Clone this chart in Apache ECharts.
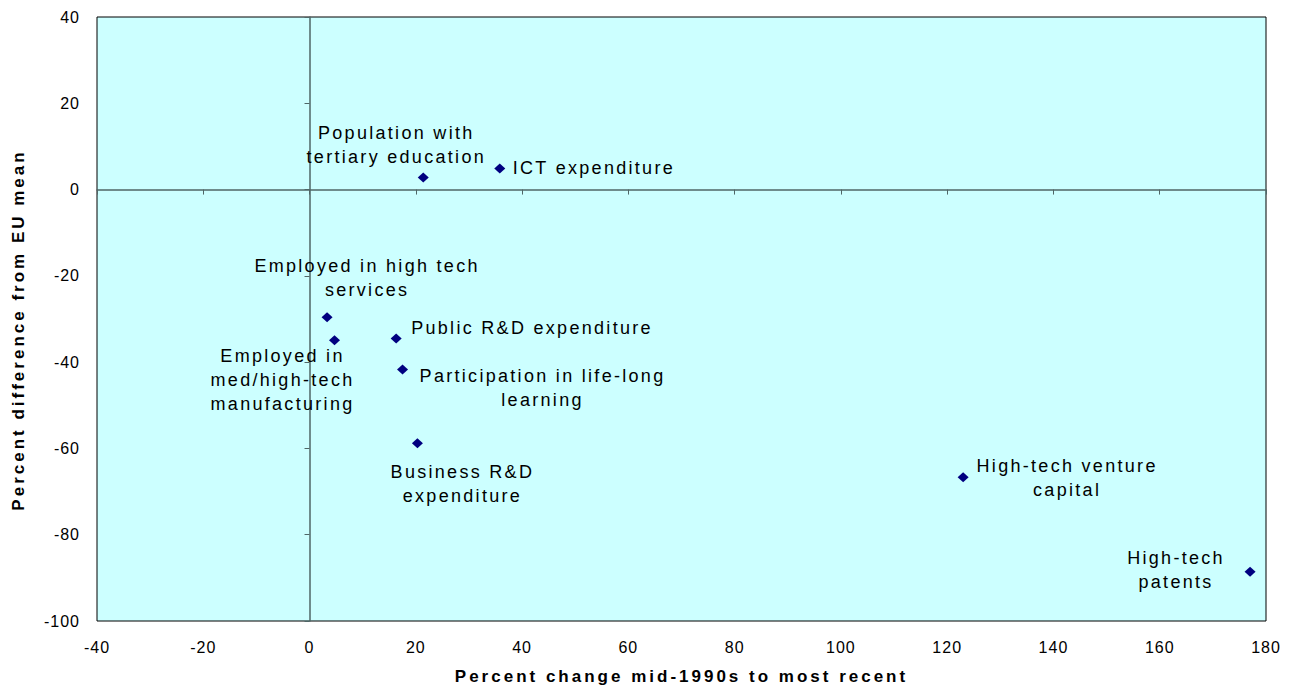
<!DOCTYPE html>
<html>
<head>
<meta charset="utf-8">
<script src="https://cdn.jsdelivr.net/npm/echarts@6/dist/echarts.min.js"></script>
<style>
html,body{margin:0;padding:0;background:#fff;}
#chart{width:1292px;height:691px;}
</style>
</head>
<body>
<div id="chart"></div>
<script>
// ---- data ----
const pointNames = [
  'Population with\ntertiary education',
  'ICT expenditure',
  'Employed in high tech\nservices',
  'Employed in\nmed/high-tech\nmanufacturing',
  'Public R&D expenditure',
  'Participation in life-long\nlearning',
  'Business R&D\nexpenditure',
  'High-tech venture\ncapital',
  'High-tech\npatents'
];
const xValues = [21.4, 35.8, 3.3, 4.7, 16.3, 17.5, 20.3, 123.0, 177.0];
const yValues = [2.8, 4.9, -29.6, -34.9, -34.5, -41.7, -58.8, -66.7, -88.6];
const xAxisRange = [-40, 180, 20];   // min, max, interval
const yAxisRange = [-100, 40, 20];
const xTitle = 'Percent change mid-1990s to most recent';
const yTitle = 'Percent difference from EU mean';

// ---- label placement (style, not data) ----
const labelLayout = [
  {align:'center', offset:[-27, -32]},
  {align:'left',   offset:[13, 0]},
  {align:'center', offset:[40, -39]},
  {align:'center', offset:[-52, 40]},
  {align:'left',   offset:[15, -10]},
  {align:'center', offset:[140, 19]},
  {align:'center', offset:[45, 41]},
  {align:'center', offset:[104, 1]},
  {align:'center', offset:[-74, -2]}
];

const FONT = "'Liberation Sans', Arial, sans-serif";
const seriesData = xValues.map((x, i) => ({
  name: pointNames[i],
  value: [x, yValues[i]],
  label: {
    show: true,
    position: 'inside',
    align: labelLayout[i].align,
    verticalAlign: 'middle',
    offset: labelLayout[i].offset
  }
}));

const zeroLineColor = '#4f6666';

const chart = echarts.init(document.getElementById('chart'), null, {renderer: 'svg'});
chart.setOption({
  animation: false,
  grid: {
    left: 97, top: 17, right: 26, bottom: 70,
    show: true, backgroundColor: '#CCFFFF', borderColor: '#000', borderWidth: 1
  },
  xAxis: [
    {
      type: 'value', min: xAxisRange[0], max: xAxisRange[1], interval: xAxisRange[2],
      position: 'bottom',
      axisLine: {show: false, onZero: false},
      axisTick: {show: false},
      splitLine: {show: false},
      axisLabel: {color: '#000', fontSize: 16, fontFamily: FONT, margin: 18},
      name: xTitle, nameLocation: 'middle', nameGap: 47,
      nameTextStyle: {color: '#000', fontSize: 17, fontWeight: 'bold', fontFamily: FONT}
    },
    {
      type: 'value', min: xAxisRange[0], max: xAxisRange[1], interval: xAxisRange[2],
      position: 'bottom',
      axisLine: {show: true, onZero: true, onZeroAxisIndex: 0, lineStyle: {color: zeroLineColor, width: 1.5}},
      axisTick: {show: true, inside: false, length: 5, lineStyle: {color: zeroLineColor, width: 1}},
      splitLine: {show: false},
      axisLabel: {show: false}
    }
  ],
  yAxis: [
    {
      type: 'value', min: yAxisRange[0], max: yAxisRange[1], interval: yAxisRange[2],
      position: 'left',
      axisLine: {show: false, onZero: false},
      axisTick: {show: false},
      splitLine: {show: false},
      axisLabel: {color: '#000', fontSize: 16, fontFamily: FONT, margin: 17},
      name: yTitle, nameLocation: 'middle', nameGap: 70, nameRotate: 90,
      nameTextStyle: {color: '#000', fontSize: 17, fontWeight: 'bold', fontFamily: FONT, padding: [0, 22, 0, 0]}
    },
    {
      type: 'value', min: yAxisRange[0], max: yAxisRange[1], interval: yAxisRange[2],
      position: 'left',
      axisLine: {show: true, onZero: true, onZeroAxisIndex: 0, lineStyle: {color: zeroLineColor, width: 1.5}},
      axisTick: {show: true, inside: false, length: 5, lineStyle: {color: zeroLineColor, width: 1}},
      splitLine: {show: false},
      axisLabel: {show: false}
    }
  ],
  series: [{
    type: 'scatter',
    xAxisIndex: 0, yAxisIndex: 0,
    symbol: 'diamond',
    symbolSize: [11, 10],
    itemStyle: {color: '#000080', opacity: 1},
    label: {
      show: true,
      formatter: p => p.name,
      color: '#000',
      textBorderWidth: 0,
      textBorderColor: 'transparent',
      fontSize: 18,
      fontFamily: FONT,
      lineHeight: 24
    },
    emphasis: {disabled: true},
    data: seriesData
  }]
});

function applySpacing() {
  document.querySelectorAll('#chart svg text').forEach(t => {
    const cs = getComputedStyle(t);
    const fs = parseFloat(cs.fontSize);
    const w = cs.fontWeight;
    const bold = w === 'bold' || parseInt(w, 10) >= 600;
    t.style.letterSpacing = bold ? '3px' : (fs >= 18 ? '2.3px' : '1px');
  });
}
applySpacing();
chart.on('finished', applySpacing);
</script>
</body>
</html>
